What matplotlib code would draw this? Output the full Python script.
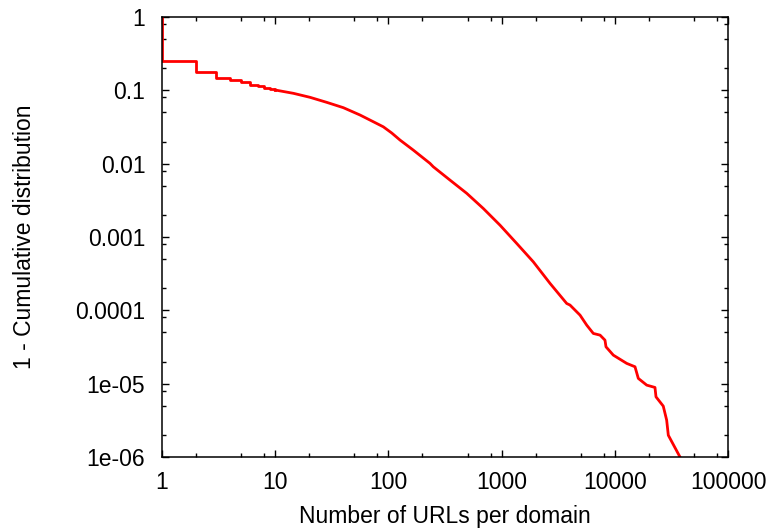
import matplotlib
matplotlib.use("Agg")
from matplotlib import pyplot as plt
from matplotlib.ticker import LogLocator, NullFormatter, FixedLocator, FixedFormatter

# integer part of the distribution (drawn as steps)
step_urls = [1, 1, 2, 3, 4, 5, 6, 7, 8, 9, 10]
step_ccdf = [1.0, 0.253, 0.178, 0.149, 0.137, 0.128, 0.119, 0.113, 0.107, 0.104, 0.101]

# rest of the tail
tail_urls = [10, 14.5, 20.3, 28.5, 40, 56.1, 73.6, 90.2, 107, 126.6, 166, 232.8, 249,
             350, 492, 689, 968, 1359, 1905, 2678, 3760, 4020, 4930, 5650, 6460,
             7410, 8190, 8360, 9700, 12740, 15080, 16130, 19140, 22640, 23120,
             26800, 28720, 29700, 37670, 45000]
tail_ccdf = [0.101, 0.091, 0.0803, 0.0686, 0.058, 0.0461, 0.0373, 0.0318, 0.0262, 0.0210,
             0.0153, 0.0101, 0.00908, 0.00597, 0.00394, 0.00245, 0.00145, 0.000818,
             0.000459, 0.000233, 0.000124, 1.18e-4, 8.6e-5, 6.28e-5, 4.84e-5,
             4.59e-5, 3.92e-5, 3.18e-5, 2.45e-5, 1.89e-5, 1.70e-5, 1.18e-5, 9.55e-6,
             8.88e-6, 6.61e-6, 4.94e-6, 3.18e-6, 1.98e-6, 1.0e-6, 5.6e-7]

x_ticks = [1, 10, 100, 1000, 10000, 100000]
x_labels = ["1", "10", "100", "1000", "10000", "100000"]
y_ticks = [1e-6, 1e-5, 1e-4, 1e-3, 1e-2, 1e-1, 1]
y_labels = ["1e-06", "1e-05", "0.0001", "0.001", "0.01", "0.1", "1"]

plt.rcParams["font.family"] = ["Liberation Sans", "DejaVu Sans"]
plt.rcParams["font.size"] = 16.5


def plot_ccdf():
    fig = plt.figure(figsize=(7.76, 5.32), dpi=100)
    ax = fig.add_axes([162 / 776, 75 / 532, 566 / 776, 440 / 532])
    ax.plot(step_urls, step_ccdf, color="red", lw=2, drawstyle="steps-post")
    ax.plot(tail_urls, tail_ccdf, color="red", lw=2)
    ax.set_xscale("log")
    ax.set_yscale("log")
    ax.set_xlim(1, 100000)
    ax.set_ylim(1e-6, 1)

    ax.xaxis.set_major_locator(FixedLocator(x_ticks))
    ax.xaxis.set_major_formatter(FixedFormatter(x_labels))
    ax.yaxis.set_major_locator(FixedLocator(y_ticks))
    ax.yaxis.set_major_formatter(FixedFormatter(y_labels))
    for axis in (ax.xaxis, ax.yaxis):
        axis.set_minor_locator(LogLocator(base=10, subs=(2, 5, 8)))
        axis.set_minor_formatter(NullFormatter())

    ax.tick_params(which="both", direction="in", top=True, right=True, width=1)
    ax.tick_params(which="major", length=5)
    ax.tick_params(which="minor", length=2.8)
    ax.tick_params(axis="y", pad=12)
    ax.tick_params(axis="x", pad=10)
    for s in ax.spines.values():
        s.set_linewidth(1.1)

    ax.set_xlabel("Number of URLs per domain", labelpad=8)
    ax.set_ylabel("1 - Cumulative distribution", labelpad=28)
    fig.savefig("out.png", dpi=100)


def main():
    plot_ccdf()


if __name__ == "__main__":
    main()
